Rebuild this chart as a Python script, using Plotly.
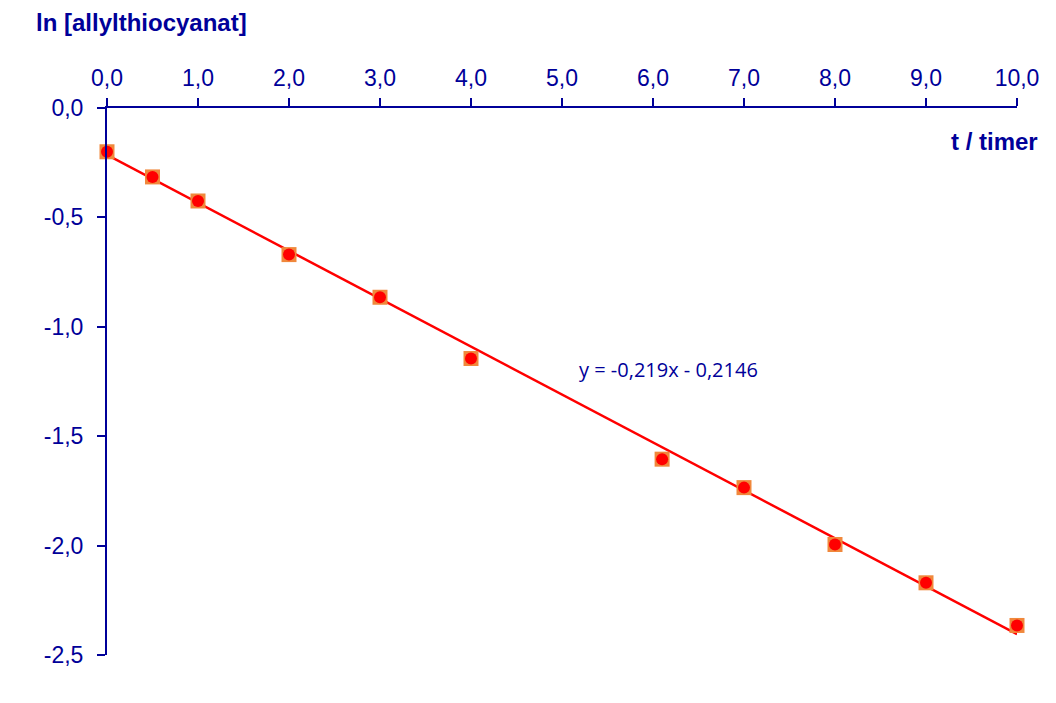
import plotly.graph_objects as go

# measured values, ln of concentration vs time
t_hours = [0.0, 0.5, 1.0, 2.0, 3.0, 4.0, 6.1, 7.0, 8.0, 9.0, 10.0]
ln_conc = [-0.20, -0.315, -0.425, -0.67, -0.865, -1.145, -1.605, -1.735, -1.995, -2.17, -2.365]

# trend line from the chart's equation
slope = -0.219
intercept = -0.2146
fit_x = [0.0, 10.0]
fit_y = [slope * x + intercept for x in fit_x]

x_ticks = [0, 1, 2, 3, 4, 5, 6, 7, 8, 9, 10]
x_labels = ['0,0', '1,0', '2,0', '3,0', '4,0', '5,0', '6,0', '7,0', '8,0', '9,0', '10,0']
y_ticks = [0.0, -0.5, -1.0, -1.5, -2.0, -2.5]
y_labels = ['0,0', '-0,5', '-1,0', '-1,5', '-2,0', '-2,5']

navy = '#000099'

fig = go.Figure()
fig.add_trace(go.Scatter(x=fit_x, y=fit_y, mode='lines', cliponaxis=False,
                         line=dict(color='#FF0000', width=2.5), hoverinfo='skip'))
fig.add_trace(go.Scatter(x=t_hours, y=ln_conc, mode='markers', cliponaxis=False,
                         marker=dict(symbol='square', size=15, color='#F0883C')))
fig.add_trace(go.Scatter(x=t_hours, y=ln_conc, mode='markers', cliponaxis=False,
                         marker=dict(symbol='circle', size=12, color='#FF0000')))

axis_style = dict(showline=True, linecolor=navy, linewidth=2, ticks='outside',
                  ticklen=8, tickwidth=2, tickcolor=navy, showgrid=False,
                  zeroline=False, automargin=False,
                  tickfont=dict(family='Liberation Sans', size=23, color=navy))

fig.update_xaxes(range=[0, 10], side='top', tickvals=x_ticks, ticktext=x_labels,
                 ticklabelstandoff=3, **axis_style)
fig.update_yaxes(range=[-2.5, 0], tickvals=y_ticks, ticktext=y_labels,
                 ticklabelstandoff=9, **axis_style)

fig.add_annotation(text='<b>ln [allylthiocyanat]</b>', xref='paper', yref='paper',
                   x=-0.08, y=1.157, xanchor='left', yanchor='middle', showarrow=False,
                   font=dict(family='Liberation Sans', size=24, color=navy))
fig.add_annotation(text='<b>t / timer</b>', xref='paper', yref='paper',
                   x=1.0253, y=0.938, xanchor='right', yanchor='middle', showarrow=False,
                   font=dict(family='Liberation Sans', size=24, color=navy))
fig.add_annotation(text='y = -0,219x - 0,2146', x=5.165, y=-1.197,
                   xanchor='left', yanchor='middle', showarrow=False,
                   font=dict(family='Open Sans', size=20, color=navy))

# page body adds 8px, so the figure is a bit smaller than the window
fig.update_layout(width=1048, height=695, showlegend=False,
                  plot_bgcolor='white', paper_bgcolor='white',
                  margin=dict(l=99, r=39, t=100, b=48))

fig.write_html("out.html")
